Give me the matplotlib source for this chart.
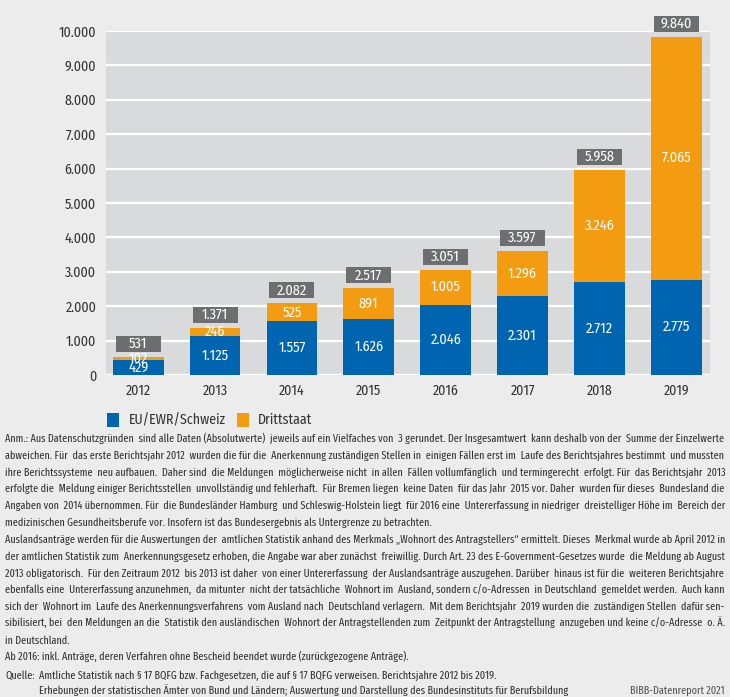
import os
import matplotlib
matplotlib.use('Agg')
import matplotlib.pyplot as plt
from matplotlib import font_manager as fm
from matplotlib.font_manager import FontProperties
from matplotlib.patches import Rectangle

# ---------------- data ----------------
years = ['2012', '2013', '2014', '2015', '2016', '2017', '2018', '2019']
eu_ewr = [429, 1125, 1557, 1626, 2046, 2301, 2712, 2775]
drittstaat = [102, 246, 525, 891, 1005, 1296, 3246, 7065]
totals = [531, 1371, 2082, 2517, 3051, 3597, 5958, 9840]
yticks = [0, 1000, 2000, 3000, 4000, 5000, 6000, 7000, 8000, 9000, 10000]
series_names = ['EU/EWR/Schweiz', 'Drittstaat']

note_lines = [
    "Anm.: Aus Datenschutzgründen sind alle Daten (Absolutwerte) jeweils auf ein Vielfaches von 3 gerundet. Der Insgesamtwert kann deshalb von der Summe der Einzelwerte",
    "abweichen. Für das erste Berichtsjahr 2012 wurden die für die Anerkennung zuständigen Stellen in einigen Fällen erst im Laufe des Berichtsjahres bestimmt und mussten",
    "ihre Berichtssysteme neu aufbauen. Daher sind die Meldungen möglicherweise nicht in allen Fällen vollumfänglich und termingerecht erfolgt. Für das Berichtsjahr 2013",
    "erfolgte die Meldung einiger Berichtsstellen unvollständig und fehlerhaft. Für Bremen liegen keine Daten für das Jahr 2015 vor. Daher wurden für dieses Bundesland die",
    "Angaben von 2014 übernommen. Für die Bundesländer Hamburg und Schleswig-Holstein liegt für 2016 eine Untererfassung in niedriger dreistelliger Höhe im Bereich der",
    "medizinischen Gesundheitsberufe vor. Insofern ist das Bundesergebnis als Untergrenze zu betrachten.",
    "Auslandsanträge werden für die Auswertungen der amtlichen Statistik anhand des Merkmals „Wohnort des Antragstellers“ ermittelt. Dieses Merkmal wurde ab April 2012 in",
    "der amtlichen Statistik zum Anerkennungsgesetz erhoben, die Angabe war aber zunächst freiwillig. Durch Art. 23 des E-Government-Gesetzes wurde die Meldung ab August",
    "2013 obligatorisch. Für den Zeitraum 2012 bis 2013 ist daher von einer Untererfassung der Auslandsanträge auszugehen. Darüber hinaus ist für die weiteren Berichtsjahre",
    "ebenfalls eine Untererfassung anzunehmen, da mitunter nicht der tatsächliche Wohnort im Ausland, sondern c/o-Adressen in Deutschland gemeldet werden. Auch kann",
    "sich der Wohnort im Laufe des Anerkennungsverfahrens vom Ausland nach Deutschland verlagern. Mit dem Berichtsjahr 2019 wurden die zuständigen Stellen dafür sen-",
    "sibilisiert, bei den Meldungen an die Statistik den ausländischen Wohnort der Antragstellenden zum Zeitpunkt der Antragstellung anzugeben und keine c/o-Adresse o. Ä.",
    "in Deutschland.",
    "Ab 2016: inkl. Anträge, deren Verfahren ohne Bescheid beendet wurde (zurückgezogene Anträge).",
]
justify_flags = [True, True, True, True, True, False, True, True, True, True, True, True, False, False]
source_label = "Quelle:"
source_line1 = "Amtliche Statistik nach § 17 BQFG bzw. Fachgesetzen, die auf § 17 BQFG verweisen. Berichtsjahre 2012 bis 2019."
source_line2 = "Erhebungen der statistischen Ämter von Bund und Ländern; Auswertung und Darstellung des Bundesinstituts für Berufsbildung"
report_label = "BIBB-Datenreport 2021"

# ---------------- fonts ----------------
by_base = {}
for f in fm.fontManager.ttflist:
    by_base.setdefault(os.path.basename(f.fname).lower(), f.fname)

def pick(cands):
    for b in cands:
        if b in by_base:
            return by_base[b]
    return None

CHART_FONT = pick(['firasanscondensed-regular.ttf', 'robotocondensed-regular.ttf',
                   'dejavusanscondensed.ttf'])
NOTE_FONT = pick(['firasansextracondensed-regular.ttf', 'firasanscondensed-regular.ttf',
                  'robotocondensed-regular.ttf', 'dejavusanscondensed.ttf'])

def fp(size, path=None):
    path = path or CHART_FONT
    if path:
        return FontProperties(fname=path, size=size)
    return FontProperties(family=['DejaVu Sans'], stretch='condensed', size=size)

def fpn(size):
    return fp(size, NOTE_FONT)

# ---------------- style ----------------
BG = '#ececec'
PLOT_BG = '#d9dadb'
BLUE = '#0065b0'
ORANGE = '#f39c12'
BOX = '#6d6e70'
TXT = '#333333'

W, H = 730, 697
def fx(x):
    return x / W
def fy(y):
    return 1 - y / H

fig = plt.figure(figsize=(W / 100, H / 100), dpi=100)
fig.patch.set_facecolor(BG)

ax = fig.add_axes([fx(106), fy(375), (710 - 106) / W, (375 - 31) / H])
ax.set_facecolor(PLOT_BG)
ax.set_xlim(-0.42, 7.44)
ax.set_ylim(0, 10000)
for s in ax.spines.values():
    s.set_visible(False)

def fmt(v):
    return f"{v:,}".replace(',', '.')

ax.set_yticks(yticks)
ax.set_yticklabels([fmt(v) for v in yticks])
ax.set_xticks(range(len(years)))
ax.set_xticklabels(years)
ax.tick_params(axis='both', length=0, labelcolor=TXT)
ax.tick_params(axis='y', pad=7)
ax.tick_params(axis='x', pad=6)
for lab in ax.get_yticklabels() + ax.get_xticklabels():
    lab.set_fontproperties(fp(10))
ax.yaxis.grid(True, color='white', linewidth=1.6)
ax.set_axisbelow(True)

x = list(range(len(years)))
bw = 0.66
ax.bar(x, eu_ewr, width=bw, color=BLUE, zorder=2)
ax.bar(x, drittstaat, width=bw, bottom=eu_ewr, color=ORANGE, zorder=2)

VAL = 10.3
for i in x:
    ax.text(i, eu_ewr[i] / 2, fmt(eu_ewr[i]), ha='center', va='center',
            color='white', fontproperties=fp(VAL), zorder=3)
    ax.text(i, eu_ewr[i] + drittstaat[i] / 2, fmt(drittstaat[i]), ha='center',
            va='center', color='white', fontproperties=fp(VAL), zorder=3)
    bx_w = 0.585
    y0 = totals[i] + 145
    hgt = 465
    ax.add_patch(Rectangle((i - bx_w / 2, y0), bx_w, hgt, facecolor=BOX,
                           edgecolor='none', clip_on=False, zorder=3))
    ax.text(i, y0 + hgt / 2, fmt(totals[i]), ha='center', va='center',
            color='white', fontproperties=fp(VAL), zorder=4, clip_on=False)

# ---------------- legend ----------------
leg_items = [(series_names[0], BLUE, 107, 129), (series_names[1], ORANGE, 237, 258)]
for name, col, sx, tx in leg_items:
    fig.patches.append(Rectangle((fx(sx), fy(427)), 12 / W, 14 / H,
                                 transform=fig.transFigure, facecolor=col,
                                 edgecolor='none'))
    fig.text(fx(tx), fy(420), name, ha='left', va='center',
             fontproperties=fp(10), color=TXT)

# ---------------- notes ----------------
renderer = fig.canvas.get_renderer()

def width_of(s, size):
    t = fig.text(0, 0, s, fontproperties=fpn(size))
    w = t.get_window_extent(renderer).width
    t.remove()
    return w

LEFT, RIGHT = 5, 725
note_size = 10.0
maxw = max(width_of(l, note_size) for l, f in zip(note_lines, justify_flags) if f)
if maxw > (RIGHT - LEFT) * 0.995:
    note_size *= (RIGHT - LEFT) * 0.995 / maxw
space_w = width_of('a a', note_size) - width_of('aa', note_size)

def justify(line):
    words = line.split(' ')
    gaps = len(words) - 1
    deficit = (RIGHT - LEFT) - width_of(line, note_size)
    n_extra = max(0, int(round(deficit / space_w))) if space_w > 0 else 0
    extra = [0] * gaps
    for j in range(n_extra):
        extra[int((j + 0.5) * gaps / n_extra) % gaps] += 1
    out = words[0]
    for g in range(gaps):
        out += ' ' * (1 + extra[g]) + words[g + 1]
    return out

line_h = 16.8
base0 = 442
for k, (line, just) in enumerate(zip(note_lines, justify_flags)):
    yb = base0 + k * line_h
    s = justify(line) if just else line
    fig.text(fx(LEFT), fy(yb), s, ha='left', va='baseline',
             fontproperties=fpn(note_size), color=TXT)

yq = base0 + len(note_lines) * line_h + 1.5
fig.text(fx(LEFT), fy(yq), source_label, ha='left', va='baseline',
         fontproperties=fpn(note_size), color=TXT)
indent = LEFT + width_of(source_label + ' ', note_size) + 2
fig.text(fx(indent), fy(yq), source_line1, ha='left', va='baseline',
         fontproperties=fpn(note_size), color=TXT)
fig.text(fx(indent), fy(yq + 15), source_line2, ha='left', va='baseline',
         fontproperties=fpn(note_size), color=TXT)
fig.text(fx(RIGHT), fy(yq + 15), report_label, ha='right', va='baseline',
         fontproperties=fpn(note_size), color='#555555')

fig.savefig('out.png', dpi=100, facecolor=BG)
